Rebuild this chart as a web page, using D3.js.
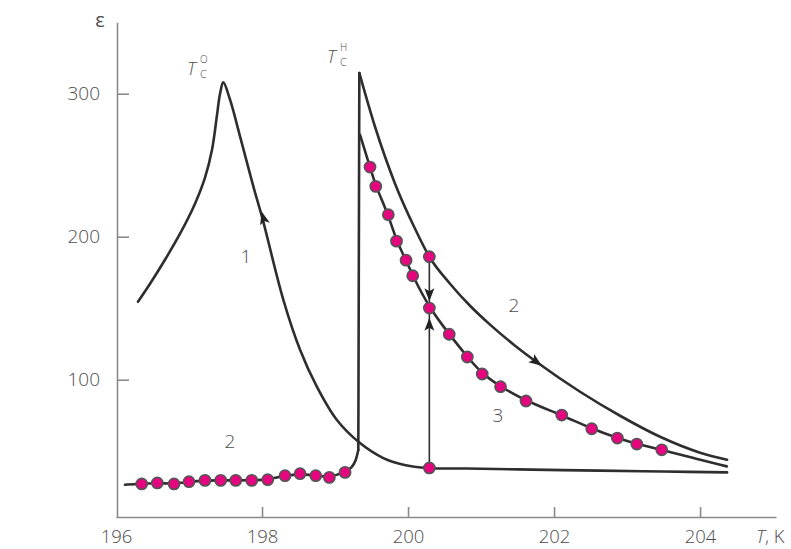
<!DOCTYPE html>
<html><head><meta charset="utf-8">
<script src="https://cdn.jsdelivr.net/npm/d3@7"></script>
<style>
body{margin:0;background:#fff}
svg{display:block}
text{font-family:"Open Sans","DejaVu Sans",sans-serif;fill:#4d4d4d}
</style>
</head><body>
<svg id="c" width="791" height="549"></svg>
<script>
// ---- data ----
const xTicks = [196, 198, 200, 202, 204];
const yTicks = [100, 200, 300];

// curve 1 (cooling): peak at T_C^o, joins the low flat branch
const curve1T = [196.301,196.466,196.671,196.877,197.082,197.219,197.315,197.384,197.425,197.470,197.562,197.699,197.881,198.010,198.292,198.521,198.749,199.023,199.342,199.662,199.936,200.278,200.8,201.5,202.63,203.5,204.37];
const curve1E = [154.5,167.1,183.9,202.1,223.1,241.3,260.8,285.3,300.0,307.9,295.8,270.1,235.2,211.9,155.9,121.0,95.3,72.0,55.7,45.2,40.6,38.3,37.9,37.3,36.4,35.8,35.2];

// curve 2 (heating), low branch measured points (dots)
const heatDotT = [196.352,196.566,196.795,197.0,197.219,197.434,197.640,197.859,198.078,198.315,198.521,198.736,198.922,199.137];
const heatDotE = [27.1,27.8,27.1,28.7,29.6,29.6,29.6,29.6,30.1,32.9,34.3,32.9,31.7,35.2];
// curve 2 low branch line ends
const heatStartT = [196.123], heatStartE = [26.6];
const heatRiseT = [199.23,199.288,199.319,199.333];
const heatRiseE = [38.5,43.4,51.0,314.5];
// curve 2 falling branch above T_C^H
const heatFallT = [199.333,199.548,199.822,200.096,200.292,200.575,200.849,201.123,201.466,201.785,202.356,202.904,203.452,204.0,204.37];
const heatFallE = [314.5,276.9,237.1,205.6,186.0,167.1,151.7,138.5,123.8,111.5,91.6,74.8,60.1,49.0,44.1];

// curve 3 with dots
const c3StartT = [199.342], c3StartE = [271.3];
const c3DotT = [199.479,199.558,199.730,199.842,199.973,200.064,200.292,200.564,200.812,201.016,201.267,201.616,202.105,202.516,202.867,203.133,203.475];
const c3DotE = [248.7,235.2,215.4,196.9,183.6,172.7,150.1,131.8,115.9,104.0,95.1,85.1,75.3,65.7,59.2,55.0,51.0];
const c3EndT = [203.908,204.366], c3EndE = [45.2,39.4];

// jump experiment at T = 200.29
const jumpT = 200.292;
const jumpE = [38.3, 186.0];
const jumpDotE = [38.3, 186.0];

// arrows: [tipT, tipE, fromT, fromE]
const arrows = [
  [197.995, 217.7, 198.04, 209.0],
  [201.832, 109.8, 201.699, 114.7],
  [200.292, 154.9, 200.292, 163.6],
  [200.292, 143.4, 200.292, 135.0]
];

// curve number labels
const curveLabels = [
  {t:"1", T:197.78, E:181.8},
  {t:"2", T:197.56, E:52.4},
  {t:"2", T:201.45, E:147.6},
  {t:"3", T:201.23, E:70.6}
];

// ---- drawing ----
const svg = d3.select("#c");
const x = d3.scaleLinear().domain([196, 205.04]).range([116, 776]);
const y = d3.scaleLinear().domain([4, 350]).range([517, 22.2]);

const lineCol = "#2e2e2e";
const axisCol = "#8a8a8a";
const dotFill = "#e5067f";
const dotStroke = "#555555";

// axes
const xAxis = d3.axisBottom(x).tickValues(xTicks).tickFormat(d3.format("d")).tickSizeInner(-10).tickSizeOuter(0).tickPadding(13);
const gx = svg.append("g").attr("transform", `translate(0,${y(4)})`).call(xAxis);
const yAxis = d3.axisLeft(y).tickValues(yTicks).tickFormat(d3.format("d")).tickSizeInner(-12).tickSizeOuter(0).tickPadding(17);
const gy = svg.append("g").attr("transform", `translate(117,0)`).call(yAxis);
[gx, gy].forEach(g => {
  g.select(".domain").attr("stroke", axisCol).attr("stroke-width", 1.6);
  g.selectAll(".tick line").attr("stroke", axisCol).attr("stroke-width", 1.6);
  g.selectAll(".tick text").attr("font-size", 18.5).attr("fill", "#4d4d4d")
    .attr("font-family", '"Open Sans","DejaVu Sans",sans-serif').attr("font-weight", 300);
});
gy.selectAll(".tick text").attr("font-size", 19);
gx.selectAll(".tick").filter(d => d === 196).select("line").remove();

// axis titles
svg.append("text").attr("x", 100).attr("y", 27).attr("text-anchor", "middle").attr("font-size", 20).text("ε");
const tk = svg.append("text").attr("x", 756).attr("y", 543).attr("font-size", 18.5).attr("font-weight", 300);
tk.append("tspan").attr("font-style", "italic").text("T");
tk.append("tspan").text(", K");

// T_C labels
function tcLabel(tx, ty, sup) {
  const g = svg.append("g");
  g.append("text").attr("x", tx).attr("y", ty).attr("font-size", 18).attr("font-style", "italic").attr("font-weight", 300).text("T");
  g.append("text").attr("x", tx + 13).attr("y", ty + 3).attr("font-size", 11).attr("font-weight", 300).attr("fill", "#777").text("C");
  g.append("text").attr("x", tx + 13).attr("y", ty - 12).attr("font-size", 10).attr("font-weight", 300).attr("fill", "#777").text(sup);
}
tcLabel(187, 75, "О");
tcLabel(327, 63, "Н");

const zip = (T, E) => T.map((t, i) => [t, E[i]]);
const lineMono = d3.line().x(d => x(d[0])).y(d => y(d[1])).curve(d3.curveMonotoneX);
const lineCR = d3.line().x(d => x(d[0])).y(d => y(d[1])).curve(d3.curveCatmullRom.alpha(0.5));
const lineBasis = d3.line().x(d => x(d[0])).y(d => y(d[1])).curve(d3.curveBasis);
const lineLin = d3.line().x(d => x(d[0])).y(d => y(d[1]));

function path(d, gen, w) {
  svg.append("path").attr("d", gen(d)).attr("fill", "none").attr("stroke", lineCol)
    .attr("stroke-width", w || 2.6).attr("stroke-linejoin", "round").attr("stroke-linecap", "round");
}

// jump line
path([[jumpT, jumpE[0]], [jumpT, jumpE[1]]], lineLin, 1.6);

// curve 1
path(zip(curve1T, curve1E), lineCR);
// curve 2 low branch + vertical rise
const heatLow = zip(heatStartT, heatStartE).concat(zip(heatDotT, heatDotE), zip(heatRiseT.slice(0, 3), heatRiseE.slice(0, 3)));
path(heatLow, lineBasis);
path(zip(heatRiseT.slice(2), heatRiseE.slice(2)), lineLin);
// curve 2 falling branch
path(zip(heatFallT, heatFallE), lineMono);
// curve 3
const c3 = zip(c3StartT, c3StartE).concat(zip(c3DotT, c3DotE), zip(c3EndT, c3EndE));
path(c3, lineBasis);

// dots
const dots = zip(heatDotT, heatDotE).concat(zip(c3DotT, c3DotE), jumpDotE.map(e => [jumpT, e]));
svg.append("g").selectAll("circle").data(dots).join("circle")
  .attr("cx", d => x(d[0])).attr("cy", d => y(d[1])).attr("r", 5.6)
  .attr("fill", dotFill).attr("stroke", dotStroke).attr("stroke-width", 1.6);

// arrowheads
arrows.forEach(a => {
  const tx = x(a[0]), ty = y(a[1]), fx = x(a[2]), fy = y(a[3]);
  const ang = Math.atan2(ty - fy, tx - fx) * 180 / Math.PI;
  svg.append("path").attr("d", "M0,0 L-13,-5 L-10,0 L-13,5 Z")
    .attr("transform", `translate(${tx},${ty}) rotate(${ang})`)
    .attr("fill", "#222");
});

// curve numbers
svg.append("g").selectAll("text").data(curveLabels).join("text")
  .attr("x", d => x(d.T)).attr("y", d => y(d.E)).attr("text-anchor", "middle")
  .attr("font-size", 19).attr("font-weight", 300).text(d => d.t);
</script>
</body></html>
